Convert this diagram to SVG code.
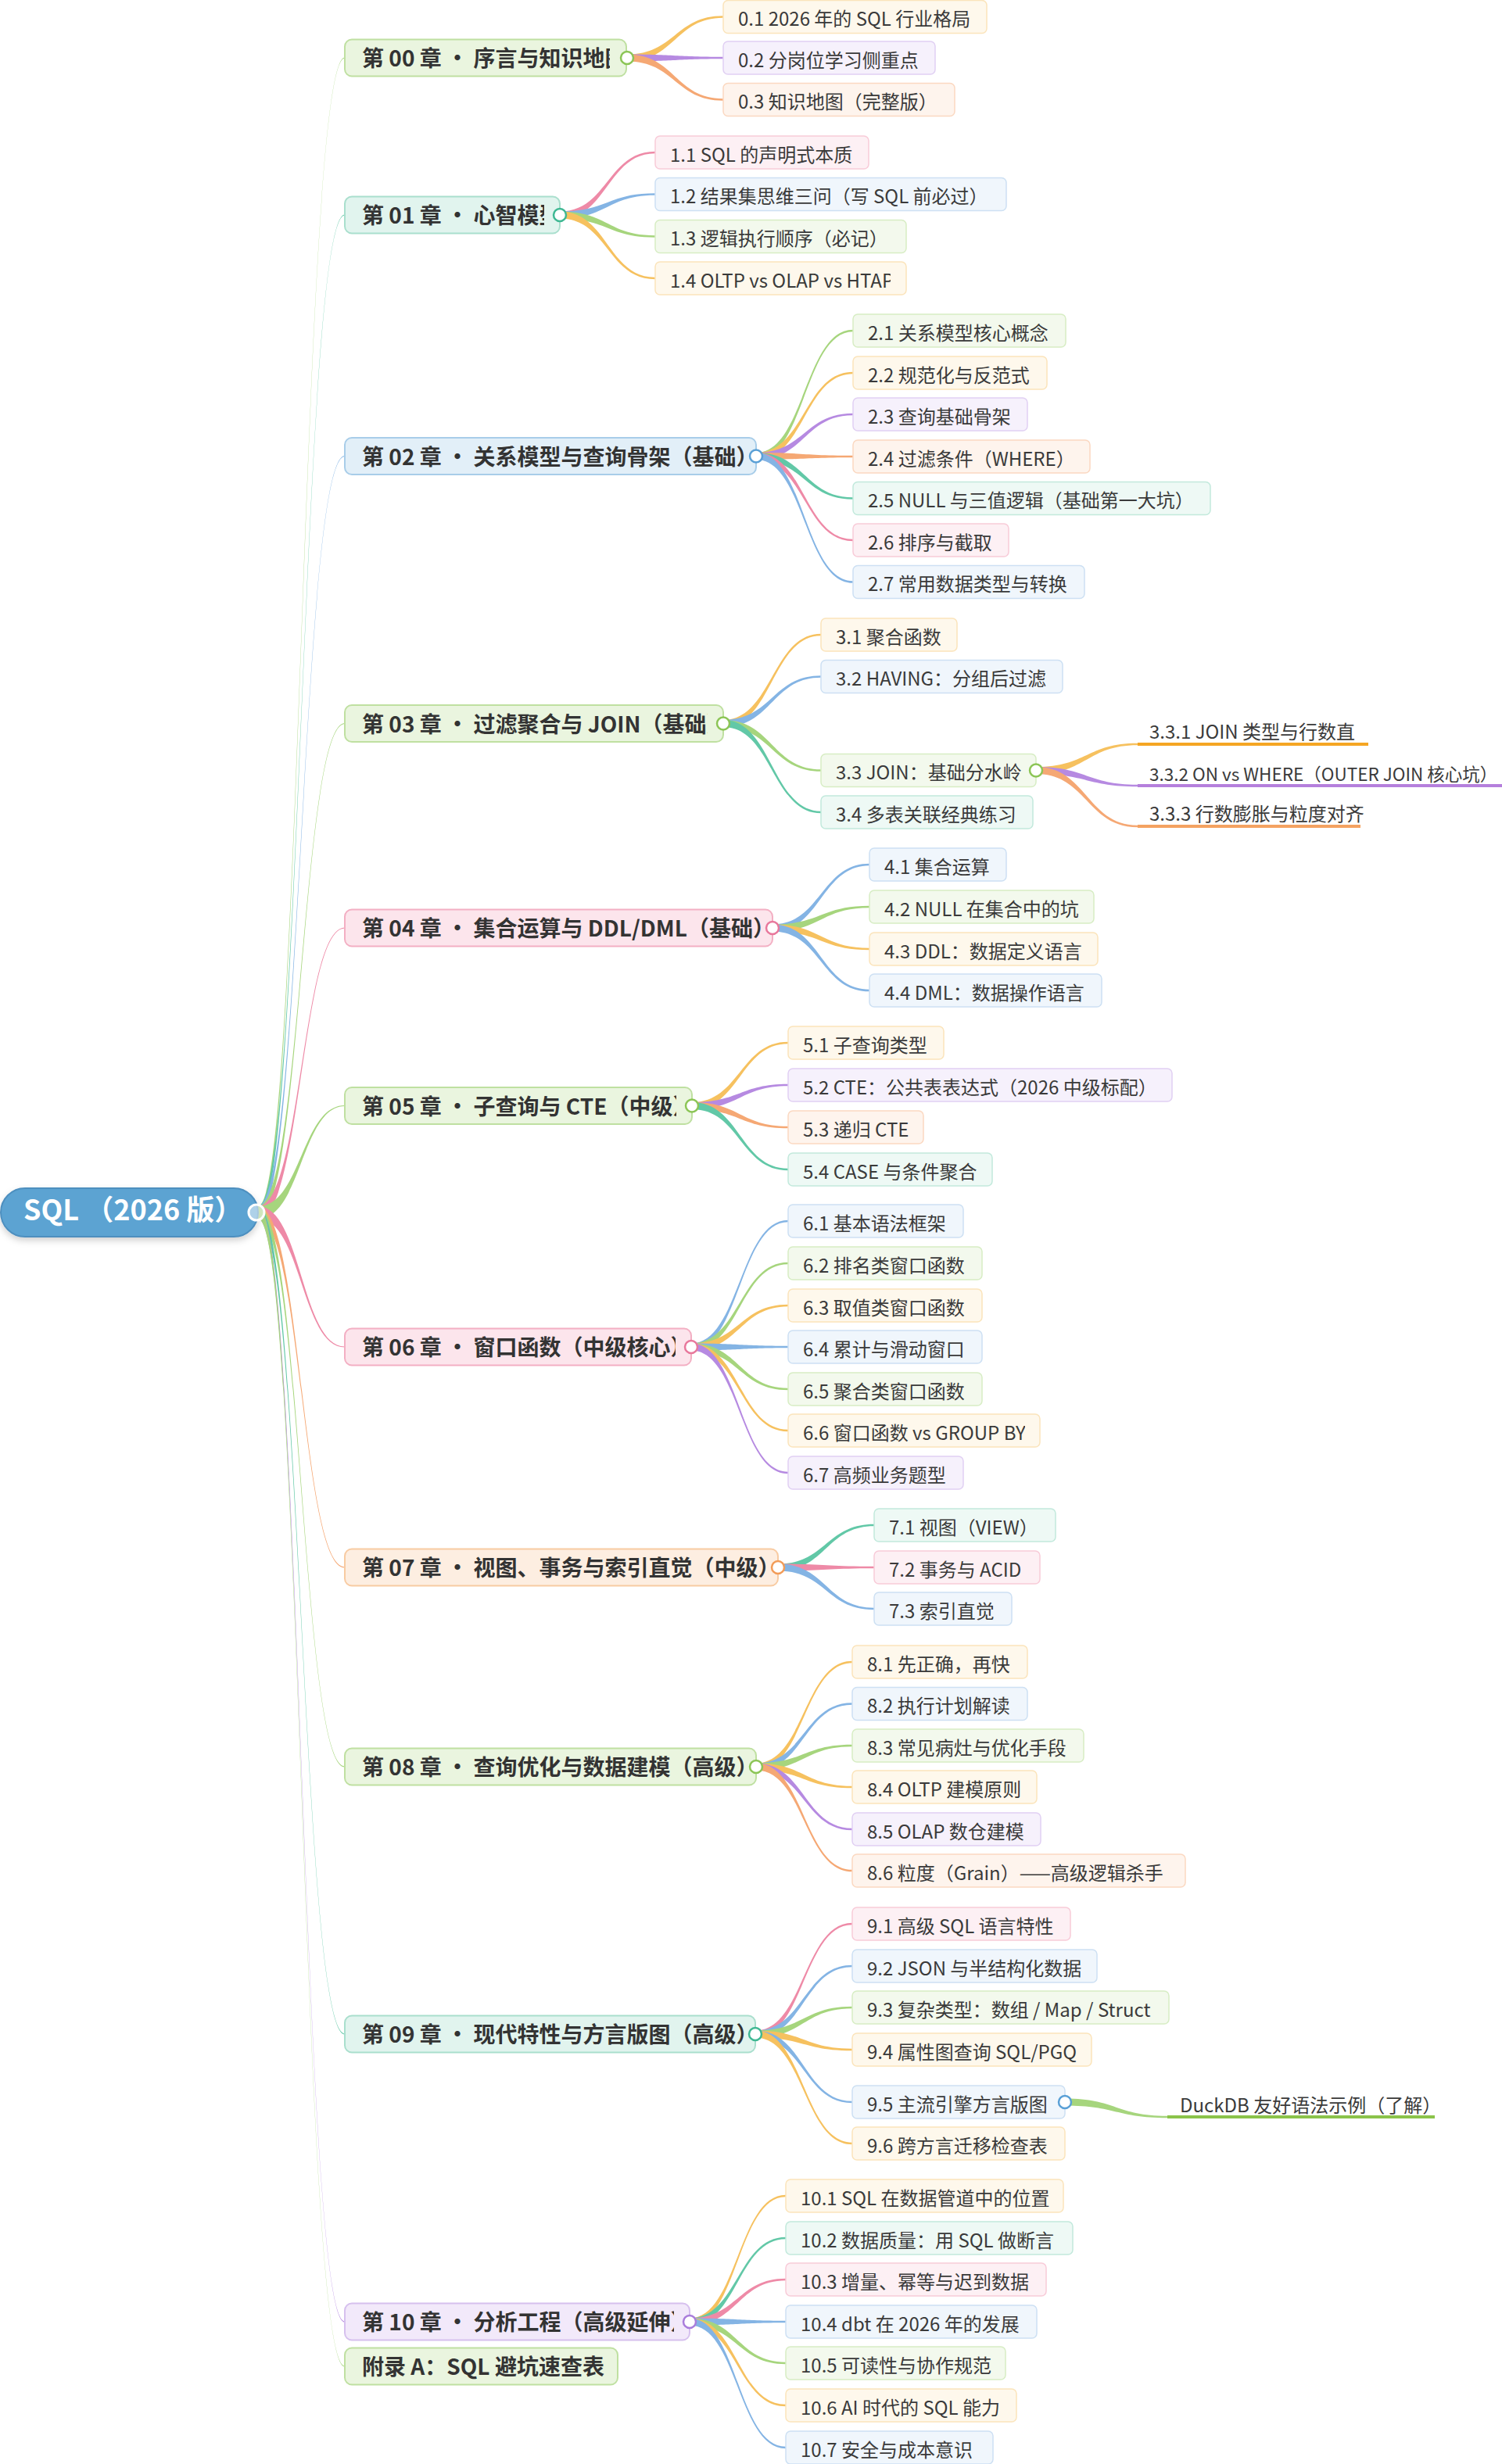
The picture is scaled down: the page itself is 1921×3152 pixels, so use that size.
<svg xmlns="http://www.w3.org/2000/svg" width="1921" height="3152" viewBox="0 0 1921 3152">
<defs>
<style>
.ct{font-family:"Noto Sans CJK SC","Noto Sans",sans-serif;font-size:28px;font-weight:bold;fill:#333}
.st{font-family:"Noto Sans CJK SC","Noto Sans",sans-serif;font-size:24px;fill:#3a3a3a}
.rt{font-family:"Noto Sans CJK SC","Noto Sans",sans-serif;font-size:36px;font-weight:bold;fill:#fff}
.sb{stroke-width:1.5}
.cb{stroke-width:2}
.bY{fill:#fef8ec;stroke:#fbe4bb}.bO{fill:#fef4ed;stroke:#fbd8c1}.bP{fill:#f6f1fc;stroke:#e1d0f3}
.bT{fill:#eef9f5;stroke:#c2e9dc}.bK{fill:#fdf0f4;stroke:#f8cbd8}.bB{fill:#f0f6fc;stroke:#cde0f3}.bG{fill:#f3f9ed;stroke:#d7edc4}
.cG{fill:#eaf5df;stroke:#bfe0a1}.cT{fill:#e1f4ee;stroke:#a9dfcd}.cB{fill:#e2eff8;stroke:#a8cde9}
.cK{fill:#fce5ec;stroke:#f3afc3}.cO{fill:#fdeee1;stroke:#f8cba2}.cP{fill:#f2e9fa;stroke:#d6c0ee}
.lY{fill:#f6c15f}.lO{fill:#f5a874}.lP{fill:#b68ae1}.lT{fill:#62c8a7}.lK{fill:#ee8aa7}.lB{fill:#84b4e4}.lG{fill:#a6d57d}
.dot{fill:#fff;stroke-width:2.5}
.oG{stroke:#8cc556}.oT{stroke:#3fb893}.oB{stroke:#5aa0d6}.oK{stroke:#e8789c}.oO{stroke:#f29c58}.oP{stroke:#a97ddb}
</style>
<filter id="sh" x="-10%" y="-30%" width="120%" height="170%"><feDropShadow dx="0" dy="4" stdDeviation="4" flood-color="#000" flood-opacity="0.18"/></filter>
<clipPath id="k00"><rect x="441" y="50" width="339" height="50"/></clipPath>
<clipPath id="k01"><rect x="441" y="250" width="255" height="50"/></clipPath>
<clipPath id="k03"><rect x="441" y="900" width="464" height="52"/></clipPath>
<clipPath id="k05"><rect x="441" y="1389" width="424" height="52"/></clipPath>
<clipPath id="k06"><rect x="441" y="1697" width="423" height="52"/></clipPath>
<clipPath id="k10"><rect x="441" y="2944" width="421" height="52"/></clipPath>
<clipPath id="k14"><rect x="838" y="334" width="301" height="44"/></clipPath>
<clipPath id="k42"><rect x="1112" y="1138" width="268" height="44"/></clipPath>
<clipPath id="k66"><rect x="1008" y="1808" width="303" height="44"/></clipPath>
<clipPath id="k84"><rect x="1090" y="2264" width="216" height="44"/></clipPath>
<clipPath id="k92"><rect x="1090" y="2493" width="294" height="44"/></clipPath>
<clipPath id="k94"><rect x="1090" y="2600" width="288" height="44"/></clipPath>
<clipPath id="k331"><rect x="1455" y="915" width="278" height="45"/></clipPath>
</defs>
<rect width="1921" height="3152" fill="#fff"/>
<g id="connectors">
<path class="lG" d="M330,1543C385.5,1543 385.5,73.4 441,73.4L441,74.6C385.5,74.6 385.5,1559 330,1559Z"/>
<path class="lT" d="M330,1543C385.5,1543 385.5,274.4 441,274.4L441,275.6C385.5,275.6 385.5,1559 330,1559Z"/>
<path class="lB" d="M330,1543C385.5,1543 385.5,582.9 441,582.9L441,584.1C385.5,584.1 385.5,1559 330,1559Z"/>
<path class="lG" d="M330,1543C385.5,1543 385.5,924.9 441,924.9L441,926.1C385.5,926.1 385.5,1559 330,1559Z"/>
<path class="lK" d="M330,1543C385.5,1543 385.5,1186.4 441,1186.4L441,1187.6C385.5,1187.6 385.5,1559 330,1559Z"/>
<path class="lG" d="M330,1543C385.5,1543 385.5,1413.9 441,1413.9L441,1415.1C385.5,1415.1 385.5,1559 330,1559Z"/>
<path class="lK" d="M330,1543C385.5,1543 385.5,1722.4 441,1722.4L441,1723.6C385.5,1723.6 385.5,1559 330,1559Z"/>
<path class="lO" d="M330,1543C385.5,1543 385.5,2004.4 441,2004.4L441,2005.6C385.5,2005.6 385.5,1559 330,1559Z"/>
<path class="lG" d="M330,1543C385.5,1543 385.5,2259.4 441,2259.4L441,2260.6C385.5,2260.6 385.5,1559 330,1559Z"/>
<path class="lT" d="M330,1543C385.5,1543 385.5,2601.4 441,2601.4L441,2602.6C385.5,2602.6 385.5,1559 330,1559Z"/>
<path class="lP" d="M330,1543C385.5,1543 385.5,2969.4 441,2969.4L441,2970.6C385.5,2970.6 385.5,1559 330,1559Z"/>
<path class="lG" d="M330,1543C385.5,1543 385.5,3026.4 441,3026.4L441,3027.6C385.5,3027.6 385.5,1559 330,1559Z"/>

<path class="lY" d="M802,69.5C863.5,69.5 863.5,20.25 925,20.25L925,22.75C863.5,22.75 863.5,78.5 802,78.5Z"/>
<path class="lP" d="M802,69.5C863.5,69.5 863.5,72.75 925,72.75L925,75.25C863.5,75.25 863.5,78.5 802,78.5Z"/>
<path class="lO" d="M802,69.5C863.5,69.5 863.5,126.25 925,126.25L925,128.75C863.5,128.75 863.5,78.5 802,78.5Z"/>

<path class="lK" d="M716,270.5C777,270.5 777,193.75 838,193.75L838,196.25C777,196.25 777,279.5 716,279.5Z"/>
<path class="lB" d="M716,270.5C777,270.5 777,247.25 838,247.25L838,249.75C777,249.75 777,279.5 716,279.5Z"/>
<path class="lG" d="M716,270.5C777,270.5 777,301.25 838,301.25L838,303.75C777,303.75 777,279.5 716,279.5Z"/>
<path class="lY" d="M716,270.5C777,270.5 777,354.75 838,354.75L838,357.25C777,357.25 777,279.5 716,279.5Z"/>

<path class="lG" d="M967,579C1029,579 1029,421.75 1091,421.75L1091,424.25C1029,424.25 1029,588 967,588Z"/>
<path class="lY" d="M967,579C1029,579 1029,475.75 1091,475.75L1091,478.25C1029,478.25 1029,588 967,588Z"/>
<path class="lP" d="M967,579C1029,579 1029,528.75 1091,528.75L1091,531.25C1029,531.25 1029,588 967,588Z"/>
<path class="lO" d="M967,579C1029,579 1029,582.75 1091,582.75L1091,585.25C1029,585.25 1029,588 967,588Z"/>
<path class="lT" d="M967,579C1029,579 1029,636.25 1091,636.25L1091,638.75C1029,638.75 1029,588 967,588Z"/>
<path class="lK" d="M967,579C1029,579 1029,689.75 1091,689.75L1091,692.25C1029,692.25 1029,588 967,588Z"/>
<path class="lB" d="M967,579C1029,579 1029,743.25 1091,743.25L1091,745.75C1029,745.75 1029,588 967,588Z"/>

<path class="lY" d="M925,921C987.5,921 987.5,810.75 1050,810.75L1050,813.25C987.5,813.25 987.5,930 925,930Z"/>
<path class="lB" d="M925,921C987.5,921 987.5,864.25 1050,864.25L1050,866.75C987.5,866.75 987.5,930 925,930Z"/>
<path class="lG" d="M925,921C987.5,921 987.5,984.25 1050,984.25L1050,986.75C987.5,986.75 987.5,930 925,930Z"/>
<path class="lT" d="M925,921C987.5,921 987.5,1037.75 1050,1037.75L1050,1040.25C987.5,1040.25 987.5,930 925,930Z"/>

<path class="lY" d="M1325,981C1390,981 1390,950.75 1455,950.75L1455,953.25C1390,953.25 1390,990 1325,990Z"/>
<path class="lP" d="M1325,981C1390,981 1390,1003.75 1455,1003.75L1455,1006.25C1390,1006.25 1390,990 1325,990Z"/>
<path class="lO" d="M1325,981C1390,981 1390,1055.75 1455,1055.75L1455,1058.25C1390,1058.25 1390,990 1325,990Z"/>

<path class="lB" d="M988,1182.5C1050,1182.5 1050,1104.75 1112,1104.75L1112,1107.25C1050,1107.25 1050,1191.5 988,1191.5Z"/>
<path class="lG" d="M988,1182.5C1050,1182.5 1050,1158.75 1112,1158.75L1112,1161.25C1050,1161.25 1050,1191.5 988,1191.5Z"/>
<path class="lY" d="M988,1182.5C1050,1182.5 1050,1212.75 1112,1212.75L1112,1215.25C1050,1215.25 1050,1191.5 988,1191.5Z"/>
<path class="lB" d="M988,1182.5C1050,1182.5 1050,1265.75 1112,1265.75L1112,1268.25C1050,1268.25 1050,1191.5 988,1191.5Z"/>

<path class="lY" d="M885,1410C946.5,1410 946.5,1332.75 1008,1332.75L1008,1335.25C946.5,1335.25 946.5,1419 885,1419Z"/>
<path class="lP" d="M885,1410C946.5,1410 946.5,1386.75 1008,1386.75L1008,1389.25C946.5,1389.25 946.5,1419 885,1419Z"/>
<path class="lO" d="M885,1410C946.5,1410 946.5,1440.75 1008,1440.75L1008,1443.25C946.5,1443.25 946.5,1419 885,1419Z"/>
<path class="lT" d="M885,1410C946.5,1410 946.5,1494.75 1008,1494.75L1008,1497.25C946.5,1497.25 946.5,1419 885,1419Z"/>

<path class="lB" d="M884,1718.5C946,1718.5 946,1560.75 1008,1560.75L1008,1563.25C946,1563.25 946,1727.5 884,1727.5Z"/>
<path class="lG" d="M884,1718.5C946,1718.5 946,1614.75 1008,1614.75L1008,1617.25C946,1617.25 946,1727.5 884,1727.5Z"/>
<path class="lY" d="M884,1718.5C946,1718.5 946,1668.75 1008,1668.75L1008,1671.25C946,1671.25 946,1727.5 884,1727.5Z"/>
<path class="lB" d="M884,1718.5C946,1718.5 946,1721.75 1008,1721.75L1008,1724.25C946,1724.25 946,1727.5 884,1727.5Z"/>
<path class="lG" d="M884,1718.5C946,1718.5 946,1775.75 1008,1775.75L1008,1778.25C946,1778.25 946,1727.5 884,1727.5Z"/>
<path class="lY" d="M884,1718.5C946,1718.5 946,1828.75 1008,1828.75L1008,1831.25C946,1831.25 946,1727.5 884,1727.5Z"/>
<path class="lP" d="M884,1718.5C946,1718.5 946,1882.75 1008,1882.75L1008,1885.25C946,1885.25 946,1727.5 884,1727.5Z"/>

<path class="lT" d="M995,2000.5C1056.5,2000.5 1056.5,1949.75 1118,1949.75L1118,1952.25C1056.5,1952.25 1056.5,2009.5 995,2009.5Z"/>
<path class="lK" d="M995,2000.5C1056.5,2000.5 1056.5,2003.75 1118,2003.75L1118,2006.25C1056.5,2006.25 1056.5,2009.5 995,2009.5Z"/>
<path class="lB" d="M995,2000.5C1056.5,2000.5 1056.5,2056.75 1118,2056.75L1118,2059.25C1056.5,2059.25 1056.5,2009.5 995,2009.5Z"/>

<path class="lY" d="M967,2255.5C1028.5,2255.5 1028.5,2124.75 1090,2124.75L1090,2127.25C1028.5,2127.25 1028.5,2264.5 967,2264.5Z"/>
<path class="lB" d="M967,2255.5C1028.5,2255.5 1028.5,2178.25 1090,2178.25L1090,2180.75C1028.5,2180.75 1028.5,2264.5 967,2264.5Z"/>
<path class="lG" d="M967,2255.5C1028.5,2255.5 1028.5,2231.75 1090,2231.75L1090,2234.25C1028.5,2234.25 1028.5,2264.5 967,2264.5Z"/>
<path class="lY" d="M967,2255.5C1028.5,2255.5 1028.5,2284.75 1090,2284.75L1090,2287.25C1028.5,2287.25 1028.5,2264.5 967,2264.5Z"/>
<path class="lP" d="M967,2255.5C1028.5,2255.5 1028.5,2338.75 1090,2338.75L1090,2341.25C1028.5,2341.25 1028.5,2264.5 967,2264.5Z"/>
<path class="lO" d="M967,2255.5C1028.5,2255.5 1028.5,2391.75 1090,2391.75L1090,2394.25C1028.5,2394.25 1028.5,2264.5 967,2264.5Z"/>

<path class="lK" d="M966,2597.5C1028,2597.5 1028,2459.75 1090,2459.75L1090,2462.25C1028,2462.25 1028,2606.5 966,2606.5Z"/>
<path class="lB" d="M966,2597.5C1028,2597.5 1028,2513.75 1090,2513.75L1090,2516.25C1028,2516.25 1028,2606.5 966,2606.5Z"/>
<path class="lG" d="M966,2597.5C1028,2597.5 1028,2566.75 1090,2566.75L1090,2569.25C1028,2569.25 1028,2606.5 966,2606.5Z"/>
<path class="lY" d="M966,2597.5C1028,2597.5 1028,2620.75 1090,2620.75L1090,2623.25C1028,2623.25 1028,2606.5 966,2606.5Z"/>
<path class="lB" d="M966,2597.5C1028,2597.5 1028,2687.75 1090,2687.75L1090,2690.25C1028,2690.25 1028,2606.5 966,2606.5Z"/>
<path class="lY" d="M966,2597.5C1028,2597.5 1028,2740.75 1090,2740.75L1090,2743.25C1028,2743.25 1028,2606.5 966,2606.5Z"/>

<path class="lG" d="M1362,2684.5C1427.5,2684.5 1427.5,2706.75 1493,2706.75L1493,2709.25C1427.5,2709.25 1427.5,2693.5 1362,2693.5Z"/>

<path class="lY" d="M882,2965.5C943.5,2965.5 943.5,2807.75 1005,2807.75L1005,2810.25C943.5,2810.25 943.5,2974.5 882,2974.5Z"/>
<path class="lT" d="M882,2965.5C943.5,2965.5 943.5,2861.75 1005,2861.75L1005,2864.25C943.5,2864.25 943.5,2974.5 882,2974.5Z"/>
<path class="lK" d="M882,2965.5C943.5,2965.5 943.5,2914.75 1005,2914.75L1005,2917.25C943.5,2917.25 943.5,2974.5 882,2974.5Z"/>
<path class="lB" d="M882,2965.5C943.5,2965.5 943.5,2968.75 1005,2968.75L1005,2971.25C943.5,2971.25 943.5,2974.5 882,2974.5Z"/>
<path class="lG" d="M882,2965.5C943.5,2965.5 943.5,3021.75 1005,3021.75L1005,3024.25C943.5,3024.25 943.5,2974.5 882,2974.5Z"/>
<path class="lY" d="M882,2965.5C943.5,2965.5 943.5,3075.75 1005,3075.75L1005,3078.25C943.5,3078.25 943.5,2974.5 882,2974.5Z"/>
<path class="lB" d="M882,2965.5C943.5,2965.5 943.5,3129.75 1005,3129.75L1005,3132.25C943.5,3132.25 943.5,2974.5 882,2974.5Z"/>
</g>

<g id="root">
<rect x="1" y="1520" width="329" height="62" rx="31" fill="#5ca3d2" stroke="#4d8fbf" stroke-width="2" filter="url(#sh)"/>
<text class="rt" x="30" y="1561">SQL （2026 版）</text>
<circle cx="328" cy="1551" r="10" fill="#fff" fill-opacity="0.5" stroke="#fff" stroke-width="3"/>
</g>

<g id="ch00"><rect class="cG cb" x="441" y="50.5" width="360" height="47" rx="9"/><text class="ct" x="463" y="85" clip-path="url(#k00)">第 00 章 · 序言与知识地图</text><circle class="dot oG" cx="802" cy="74" r="8"/></g>
<g id="ch01"><rect class="cT cb" x="441" y="251.5" width="275" height="47" rx="9"/><text class="ct" x="463" y="286" clip-path="url(#k01)">第 01 章 · 心智模型</text><circle class="dot oT" cx="716" cy="275" r="8"/></g>
<g id="ch02"><rect class="cB cb" x="441" y="560" width="526" height="47" rx="9"/><text class="ct" x="463" y="594.5">第 02 章 · 关系模型与查询骨架（基础）</text><circle class="dot oB" cx="967" cy="583.5" r="8"/></g>
<g id="ch03"><rect class="cG cb" x="441" y="902" width="484" height="47" rx="9"/><text class="ct" x="463" y="936.5" clip-path="url(#k03)">第 03 章 · 过滤聚合与 JOIN（基础）</text><circle class="dot oG" cx="925" cy="925.5" r="8"/></g>
<g id="ch04"><rect class="cK cb" x="441" y="1163.5" width="547" height="47" rx="9"/><text class="ct" x="463" y="1198">第 04 章 · 集合运算与 DDL/DML（基础）</text><circle class="dot oK" cx="988" cy="1187" r="8"/></g>
<g id="ch05"><rect class="cG cb" x="441" y="1391" width="444" height="47" rx="9"/><text class="ct" x="463" y="1425.5" clip-path="url(#k05)">第 05 章 · 子查询与 CTE（中级）</text><circle class="dot oG" cx="885" cy="1414.5" r="8"/></g>
<g id="ch06"><rect class="cK cb" x="441" y="1699.5" width="443" height="47" rx="9"/><text class="ct" x="463" y="1734" clip-path="url(#k06)">第 06 章 · 窗口函数（中级核心）</text><circle class="dot oK" cx="884" cy="1723" r="8"/></g>
<g id="ch07"><rect class="cO cb" x="441" y="1981.5" width="554" height="47" rx="9"/><text class="ct" x="463" y="2016">第 07 章 · 视图、事务与索引直觉（中级）</text><circle class="dot oO" cx="995" cy="2005" r="8"/></g>
<g id="ch08"><rect class="cG cb" x="441" y="2236.5" width="526" height="47" rx="9"/><text class="ct" x="463" y="2271">第 08 章 · 查询优化与数据建模（高级）</text><circle class="dot oG" cx="967" cy="2260" r="8"/></g>
<g id="ch09"><rect class="cT cb" x="441" y="2578.5" width="525" height="47" rx="9"/><text class="ct" x="463" y="2613">第 09 章 · 现代特性与方言版图（高级）</text><circle class="dot oT" cx="966" cy="2602" r="8"/></g>
<g id="ch10"><rect class="cP cb" x="441" y="2946.5" width="441" height="47" rx="9"/><text class="ct" x="463" y="2981" clip-path="url(#k10)">第 10 章 · 分析工程（高级延伸）</text><circle class="dot oP" cx="882" cy="2970" r="8"/></g>
<g id="appA"><rect class="cG cb" x="441" y="3003.5" width="349" height="47" rx="9"/><text class="ct" x="463" y="3038">附录 A：SQL 避坑速查表</text></g>

<g id="n0-1"><rect class="bY sb" x="925" y="0.5" width="337" height="42" rx="6"/><text class="st" x="944" y="33">0.1 2026 年的 SQL 行业格局</text></g>
<g id="n0-2"><rect class="bP sb" x="925" y="53" width="271" height="42" rx="6"/><text class="st" x="944" y="85.5">0.2 分岗位学习侧重点</text></g>
<g id="n0-3"><rect class="bO sb" x="925" y="106.5" width="296" height="42" rx="6"/><text class="st" x="944" y="139">0.3 知识地图（完整版）</text></g>

<g id="n1-1"><rect class="bK sb" x="838" y="174" width="273" height="42" rx="6"/><text class="st" x="857" y="206.5">1.1 SQL 的声明式本质</text></g>
<g id="n1-2"><rect class="bB sb" x="838" y="227.5" width="449" height="42" rx="6"/><text class="st" x="857" y="260">1.2 结果集思维三问（写 SQL 前必过）</text></g>
<g id="n1-3"><rect class="bG sb" x="838" y="281.5" width="321" height="42" rx="6"/><text class="st" x="857" y="314">1.3 逻辑执行顺序（必记）</text></g>
<g id="n1-4"><rect class="bY sb" x="838" y="335" width="321" height="42" rx="6"/><text class="st" x="857" y="367.5" clip-path="url(#k14)">1.4 OLTP vs OLAP vs HTAP</text></g>

<g id="n2-1"><rect class="bG sb" x="1091" y="402" width="272" height="42" rx="6"/><text class="st" x="1110" y="434.5">2.1 关系模型核心概念</text></g>
<g id="n2-2"><rect class="bY sb" x="1091" y="456" width="248" height="42" rx="6"/><text class="st" x="1110" y="488.5">2.2 规范化与反范式</text></g>
<g id="n2-3"><rect class="bP sb" x="1091" y="509" width="223" height="42" rx="6"/><text class="st" x="1110" y="541.5">2.3 查询基础骨架</text></g>
<g id="n2-4"><rect class="bO sb" x="1091" y="563" width="303" height="42" rx="6"/><text class="st" x="1110" y="595.5">2.4 过滤条件（WHERE）</text></g>
<g id="n2-5"><rect class="bT sb" x="1091" y="616.5" width="457" height="42" rx="6"/><text class="st" x="1110" y="649">2.5 NULL 与三值逻辑（基础第一大坑）</text></g>
<g id="n2-6"><rect class="bK sb" x="1091" y="670" width="199" height="42" rx="6"/><text class="st" x="1110" y="702.5">2.6 排序与截取</text></g>
<g id="n2-7"><rect class="bB sb" x="1091" y="723.5" width="296" height="42" rx="6"/><text class="st" x="1110" y="756">2.7 常用数据类型与转换</text></g>

<g id="n3-1"><rect class="bY sb" x="1050" y="791" width="174" height="42" rx="6"/><text class="st" x="1069" y="823.5">3.1 聚合函数</text></g>
<g id="n3-2"><rect class="bB sb" x="1050" y="844.5" width="309" height="42" rx="6"/><text class="st" x="1069" y="877">3.2 HAVING：分组后过滤</text></g>
<g id="n3-3"><rect class="bG sb" x="1050" y="964.5" width="275" height="42" rx="6"/><text class="st" x="1069" y="997">3.3 JOIN：基础分水岭</text><circle class="dot oG" cx="1325" cy="985.5" r="8"/></g>
<g id="n3-4"><rect class="bT sb" x="1050" y="1018" width="271" height="42" rx="6"/><text class="st" x="1069" y="1050.5">3.4 多表关联经典练习</text></g>
<g id="n3-3-1"><rect x="1455" y="950" width="295" height="4" fill="#f5a623"/><text class="st" x="1470" y="945" clip-path="url(#k331)">3.3.1 JOIN 类型与行数直觉</text></g>
<g id="n3-3-2"><rect x="1455" y="1003" width="466" height="4" fill="#b57fdc"/><text class="st" x="1470" y="998.5" style="font-size:22.5px">3.3.2 ON vs WHERE（OUTER JOIN 核心坑）</text></g>
<g id="n3-3-3"><rect x="1455" y="1055" width="285" height="4" fill="#f4a261"/><text class="st" x="1470" y="1050">3.3.3 行数膨胀与粒度对齐</text></g>

<g id="n4-1"><rect class="bB sb" x="1112" y="1085" width="175" height="42" rx="6"/><text class="st" x="1131" y="1117.5">4.1 集合运算</text></g>
<g id="n4-2"><rect class="bG sb" x="1112" y="1139" width="287" height="42" rx="6"/><text class="st" x="1131" y="1171.5" clip-path="url(#k42)">4.2 NULL 在集合中的坑</text></g>
<g id="n4-3"><rect class="bY sb" x="1112" y="1193" width="292" height="42" rx="6"/><text class="st" x="1131" y="1225.5">4.3 DDL：数据定义语言</text></g>
<g id="n4-4"><rect class="bB sb" x="1112" y="1246" width="297" height="42" rx="6"/><text class="st" x="1131" y="1278.5">4.4 DML：数据操作语言</text></g>

<g id="n5-1"><rect class="bY sb" x="1008" y="1313" width="199" height="42" rx="6"/><text class="st" x="1027" y="1345.5">5.1 子查询类型</text></g>
<g id="n5-2"><rect class="bP sb" x="1008" y="1367" width="491" height="42" rx="6"/><text class="st" x="1027" y="1399.5">5.2 CTE：公共表表达式（2026 中级标配）</text></g>
<g id="n5-3"><rect class="bO sb" x="1008" y="1421" width="173" height="42" rx="6"/><text class="st" x="1027" y="1453.5">5.3 递归 CTE</text></g>
<g id="n5-4"><rect class="bT sb" x="1008" y="1475" width="261" height="42" rx="6"/><text class="st" x="1027" y="1507.5">5.4 CASE 与条件聚合</text></g>

<g id="n6-1"><rect class="bB sb" x="1008" y="1541" width="224" height="42" rx="6"/><text class="st" x="1027" y="1573.5">6.1 基本语法框架</text></g>
<g id="n6-2"><rect class="bG sb" x="1008" y="1595" width="248" height="42" rx="6"/><text class="st" x="1027" y="1627.5">6.2 排名类窗口函数</text></g>
<g id="n6-3"><rect class="bY sb" x="1008" y="1649" width="248" height="42" rx="6"/><text class="st" x="1027" y="1681.5">6.3 取值类窗口函数</text></g>
<g id="n6-4"><rect class="bB sb" x="1008" y="1702" width="248" height="42" rx="6"/><text class="st" x="1027" y="1734.5">6.4 累计与滑动窗口</text></g>
<g id="n6-5"><rect class="bG sb" x="1008" y="1756" width="248" height="42" rx="6"/><text class="st" x="1027" y="1788.5">6.5 聚合类窗口函数</text></g>
<g id="n6-6"><rect class="bY sb" x="1008" y="1809" width="322" height="42" rx="6"/><text class="st" x="1027" y="1841.5" clip-path="url(#k66)">6.6 窗口函数 vs GROUP BY</text></g>
<g id="n6-7"><rect class="bP sb" x="1008" y="1863" width="224" height="42" rx="6"/><text class="st" x="1027" y="1895.5">6.7 高频业务题型</text></g>

<g id="n7-1"><rect class="bT sb" x="1118" y="1930" width="232" height="42" rx="6"/><text class="st" x="1137" y="1962.5">7.1 视图（VIEW）</text></g>
<g id="n7-2"><rect class="bK sb" x="1118" y="1984" width="212" height="42" rx="6"/><text class="st" x="1137" y="2016.5">7.2 事务与 ACID</text></g>
<g id="n7-3"><rect class="bB sb" x="1118" y="2037" width="176" height="42" rx="6"/><text class="st" x="1137" y="2069.5">7.3 索引直觉</text></g>

<g id="n8-1"><rect class="bY sb" x="1090" y="2105" width="224" height="42" rx="6"/><text class="st" x="1109" y="2137.5">8.1 先正确，再快</text></g>
<g id="n8-2"><rect class="bB sb" x="1090" y="2158.5" width="224" height="42" rx="6"/><text class="st" x="1109" y="2191">8.2 执行计划解读</text></g>
<g id="n8-3"><rect class="bG sb" x="1090" y="2212" width="296" height="42" rx="6"/><text class="st" x="1109" y="2244.5">8.3 常见病灶与优化手段</text></g>
<g id="n8-4"><rect class="bY sb" x="1090" y="2265" width="236" height="42" rx="6"/><text class="st" x="1109" y="2297.5" clip-path="url(#k84)">8.4 OLTP 建模原则</text></g>
<g id="n8-5"><rect class="bP sb" x="1090" y="2319" width="241" height="42" rx="6"/><text class="st" x="1109" y="2351.5">8.5 OLAP 数仓建模</text></g>
<g id="n8-6"><rect class="bO sb" x="1090" y="2372" width="426" height="42" rx="6"/><text class="st" x="1109" y="2404.5">8.6 粒度（Grain）——高级逻辑杀手</text></g>

<g id="n9-1"><rect class="bK sb" x="1090" y="2440" width="279" height="42" rx="6"/><text class="st" x="1109" y="2472.5">9.1 高级 SQL 语言特性</text></g>
<g id="n9-2"><rect class="bB sb" x="1090" y="2494" width="313" height="42" rx="6"/><text class="st" x="1109" y="2526.5" clip-path="url(#k92)">9.2 JSON 与半结构化数据</text></g>
<g id="n9-3"><rect class="bG sb" x="1090" y="2547" width="405" height="42" rx="6"/><text class="st" x="1109" y="2579.5">9.3 复杂类型：数组 / Map / Struct</text></g>
<g id="n9-4"><rect class="bY sb" x="1090" y="2601" width="306" height="42" rx="6"/><text class="st" x="1109" y="2633.5" clip-path="url(#k94)">9.4 属性图查询 SQL/PGQ</text></g>
<g id="n9-5"><rect class="bB sb" x="1090" y="2668" width="272" height="42" rx="6"/><text class="st" x="1109" y="2700.5">9.5 主流引擎方言版图</text><circle class="dot oB" cx="1362" cy="2689" r="8"/></g>
<g id="n9-6"><rect class="bY sb" x="1090" y="2721" width="272" height="42" rx="6"/><text class="st" x="1109" y="2753.5">9.6 跨方言迁移检查表</text></g>
<g id="n9-5-1"><rect x="1493" y="2706" width="342" height="4" fill="#8bc34a"/><text class="st" x="1509" y="2701.5">DuckDB 友好语法示例（了解）</text></g>

<g id="n10-1"><rect class="bY sb" x="1005" y="2788" width="355" height="42" rx="6"/><text class="st" x="1024" y="2820.5">10.1 SQL 在数据管道中的位置</text></g>
<g id="n10-2"><rect class="bT sb" x="1005" y="2842" width="367" height="42" rx="6"/><text class="st" x="1024" y="2874.5">10.2 数据质量：用 SQL 做断言</text></g>
<g id="n10-3"><rect class="bK sb" x="1005" y="2895" width="333" height="42" rx="6"/><text class="st" x="1024" y="2927.5">10.3 增量、幂等与迟到数据</text></g>
<g id="n10-4"><rect class="bB sb" x="1005" y="2949" width="321" height="42" rx="6"/><text class="st" x="1024" y="2981.5">10.4 dbt 在 2026 年的发展</text></g>
<g id="n10-5"><rect class="bG sb" x="1005" y="3002" width="281" height="42" rx="6"/><text class="st" x="1024" y="3034.5">10.5 可读性与协作规范</text></g>
<g id="n10-6"><rect class="bY sb" x="1005" y="3056" width="295" height="42" rx="6"/><text class="st" x="1024" y="3088.5">10.6 AI 时代的 SQL 能力</text></g>
<g id="n10-7"><rect class="bB sb" x="1005" y="3110" width="265" height="42" rx="6"/><text class="st" x="1024" y="3142.5">10.7 安全与成本意识</text></g>
</svg>
